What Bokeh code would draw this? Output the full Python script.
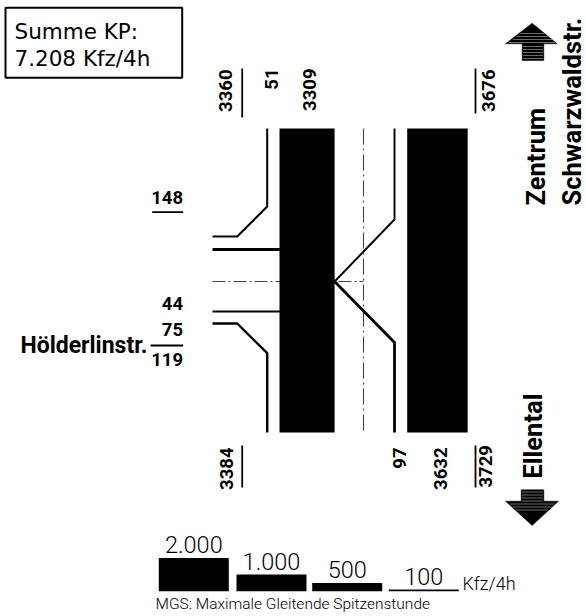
import numpy as np
from bokeh.plotting import figure
from bokeh.models import Range1d
from bokeh.core.properties import value
from bokeh.embed import file_html
from bokeh.resources import INLINE

# ---------------- data ----------------
summary_lines = ["Summe KP:", "7.208 Kfz/4h"]
street_north = ["Zentrum", "Schwarzwaldstr."]
street_south = "Ellental"
street_west = "Hölderlinstr."

north_in_total = 3360      # southbound entering from north
north_straight = 3309
north_right = 51
north_out_total = 3676     # northbound leaving to north

south_out_total = 3384
south_left = 97
south_straight = 3632
south_in_total = 3729

west_out_total = 148
west_left = 44
west_right = 75
west_in_total = 119

legend_values = [2000, 1000, 500, 100]
legend_labels = ["2.000", "1.000", "500", "100"]
unit_label = "Kfz/4h"
note = "MGS: Maximale Gleitende Spitzenstunde"

# ---------------- style / layout ----------------
K = 0.01665                     # px per Kfz/4h
BOLD_NUM = dict(text_font=value("Roboto"), text_font_style="bold",
                text_font_size="18.5px", text_color="black")
STREET = dict(text_font=value("Roboto"), text_font_style="bold",
              text_font_size="25.5px", text_color="black")
LEG = dict(text_font=value("Roboto Light, Roboto"), text_color="black")
ROT = np.pi / 2

p = figure(width=586, height=616, output_backend="svg", toolbar_location=None,
           x_range=Range1d(0, 586), y_range=Range1d(616, 0),
           x_axis_type=None, y_axis_type=None, min_border=0)
p.grid.visible = False
p.outline_line_color = None
p.background_fill_color = "white"

Y_TOP, Y_BOT = 128, 432
XW = 212                    # west end of side road
XL_BAR = 279                # left (southbound) bar
XR_BAR = 406.7              # right (northbound) bar
XL = 266.7                  # right-turn line (west side)
XR = 394                    # left-turn line (east side)
XC, YC = 363, 281           # centre lines
L_RIGHT = XL_BAR + north_straight * K


def lw(v):
    return 1.2 + v * K


# centre dash-dot lines
p.line([XC, XC], [Y_TOP, Y_BOT], line_color="#444444", line_width=1.1, line_dash="16 4 2 4")
p.line([XW, XC], [YC, YC], line_color="#444444", line_width=1.1, line_dash="13 3 2 3")

# turning flows (drawn below the bars)
p.line([XL, XL, 236.7, XW], [Y_TOP, 206, 236, 236], line_color="black", line_width=lw(north_right))
p.line([XL, XL, 236.7, XW], [Y_BOT, 352.7, 323, 323], line_color="black", line_width=lw(west_right))
p.line([XR, XR, L_RIGHT, XL_BAR, XW], [Y_TOP, 219, YC, 311, 311], line_color="black", line_width=lw(west_left))
p.line([XR, XR, L_RIGHT, XL_BAR, XW], [Y_BOT, 342, YC, 249, 249], line_color="black", line_width=lw(south_left))

# straight flows: bars
p.quad(left=[XL_BAR, XR_BAR], right=[XL_BAR + north_straight * K, XR_BAR + south_straight * K],
       top=[Y_TOP, Y_TOP], bottom=[Y_BOT, Y_BOT], fill_color="black", line_color=None)

# ---- rotated numbers, top ----
p.text(x=[225, 271, 308.5, 487.5], y=[69, 68, 68, 69],
       text=[str(north_in_total), str(north_right), str(north_straight), str(north_out_total)],
       angle=ROT, text_align="right", text_baseline="middle", **BOLD_NUM)
p.line([241.7, 241.7], [68, 117], line_color="black", line_width=1.8)
p.line([475, 475], [68, 113], line_color="black", line_width=1.8)

# ---- rotated numbers, bottom ----
p.text(x=[226, 398.5, 440], y=[447, 447, 447],
       text=[str(south_out_total), str(south_left), str(south_straight)],
       angle=ROT, text_align="right", text_baseline="middle", **BOLD_NUM)
p.text(x=[485], y=[487], text=[str(south_in_total)],
       angle=ROT, text_align="left", text_baseline="middle", **BOLD_NUM)
p.line([241.7, 241.7], [445, 487], line_color="black", line_width=1.8)
p.line([475, 475], [445, 487], line_color="black", line_width=1.8)

# ---- west numbers ----
p.text(x=[182.5, 182.5, 182.5, 182.5], y=[197, 303, 329, 359],
       text=[str(west_out_total), str(west_left), str(west_right), str(west_in_total)],
       text_align="right", text_baseline="middle", **BOLD_NUM)
p.line([151.7, 182.7], [211.7, 211.7], line_color="black", line_width=1.8)
p.line([150, 182.7], [345, 345], line_color="black", line_width=1.8)
p.text(x=[147], y=[345], text=[street_west], text_align="right", text_baseline="middle",
       text_font=value("Roboto"), text_font_style="bold", text_font_size="23px", text_color="black")

# ---- street names (rotated) ----
p.text(x=[535, 571.5, 532], y=[205, 205, 478], text=street_north + [street_south],
       angle=ROT, text_align="left", text_baseline="middle", **STREET)

# ---- arrows ----
up = ([531.7, 556.7, 543.3, 543.3, 521.7, 521.7, 505], [22.7, 43.3, 43.3, 60, 60, 43.3, 43.3])
dn = ([520.7, 543.3, 543.3, 558, 531.7, 505, 520.7], [489.3, 489.3, 500.7, 500.7, 525, 500.7, 500.7])
p.patch(up[0], up[1], fill_color="black", line_color="black", line_width=0.5)
p.patch(dn[0], dn[1], fill_color="black", line_color="black", line_width=0.5)
sx, sy = [], []
for y in [33, 36, 39, 42]:
    hw = (y - 22.7) / (43.3 - 22.7) * 25.85 - 1
    sx.append([531.7 - hw, 531.7 + hw]); sy.append([y, y])
for y in [46, 49, 52, 55, 58]:
    sx.append([522.5, 542.5]); sy.append([y, y])
for y in [491.5, 494.5, 497.5, 500.5]:
    sx.append([521.5, 542.5]); sy.append([y, y])
for y in [503.5, 506.5, 509.5]:
    hw = (525 - y) / (525 - 500.7) * 26.5 - 1
    sx.append([531.7 - hw, 531.7 + hw]); sy.append([y, y])
p.multi_line(sx, sy, line_color="white", line_width=0.7, line_alpha=0.6)

# ---- summary box ----
p.quad(left=[5], right=[181.7], top=[7.3], bottom=[77.3], fill_color=None,
       line_color="black", line_width=2)
p.text(x=[14, 14], y=[31.3, 58], text=summary_lines, text_align="left", text_baseline="middle",
       text_font=value("DejaVu Sans"), text_font_size="21.5px", text_color="black")

# ---- legend ----
leg_left = [158.3, 236, 311.7, 388.3]
LEG_W = 70
LEG_BASE = 590.7
tops = [LEG_BASE - v * K for v in legend_values]
p.quad(left=leg_left, right=[l + LEG_W for l in leg_left], top=tops,
       bottom=[LEG_BASE] * 4, fill_color="black", line_color=None)
p.text(x=[l + LEG_W / 2 for l in leg_left], y=[t - 13 for t in tops], text=legend_labels,
       text_align="center", text_baseline="middle", text_font_size="23.5px", **LEG)
p.text(x=[462], y=[582.5], text=[unit_label], text_align="left", text_baseline="middle",
       text_font_size="18px", **LEG)
p.text(x=[155], y=[603], text=[note], text_align="left", text_baseline="middle",
       text_font_size="15.5px", **LEG)

open("out.html", "w").write(file_html(p, INLINE))
